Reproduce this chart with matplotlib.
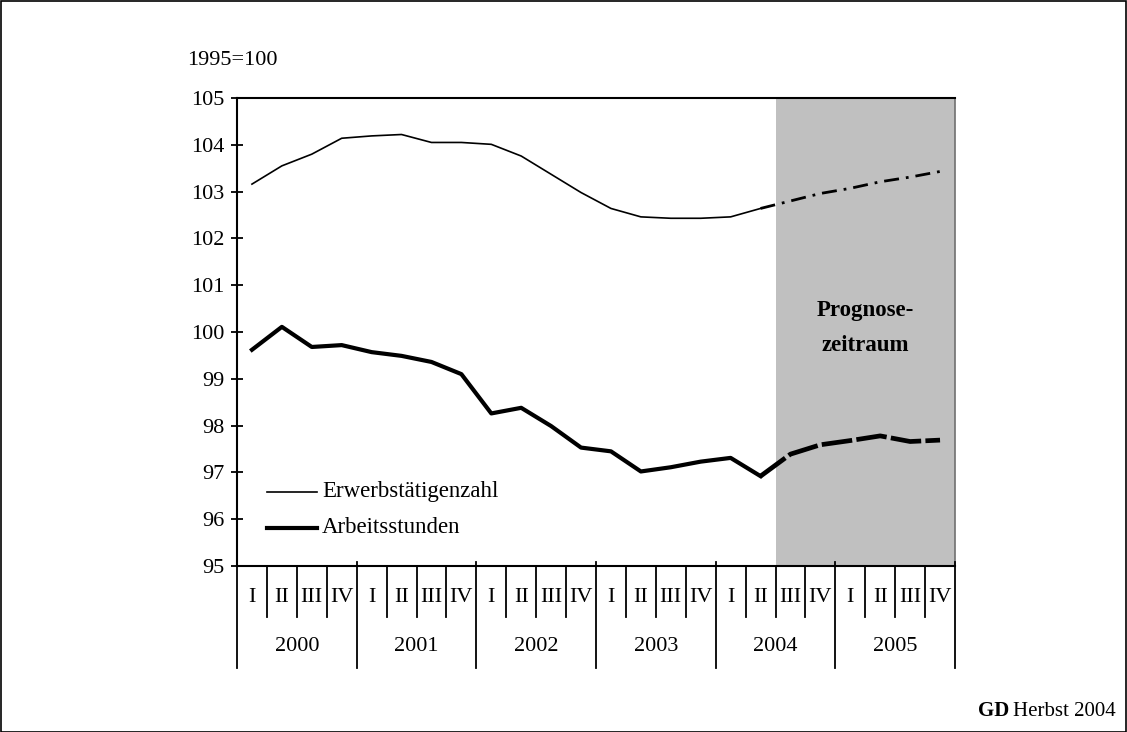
import matplotlib
matplotlib.use("Agg")
import matplotlib.pyplot as plt
from matplotlib.lines import Line2D
from matplotlib.patches import Rectangle
import matplotlib.transforms as mtransforms

plt.rcParams['font.family'] = ['Liberation Serif', 'DejaVu Serif']

# Daten (1995=100), Quartale 2000 I bis 2005 IV
quarters = ["I", "II", "III", "IV"] * 6
years = ["2000", "2001", "2002", "2003", "2004", "2005"]

erwerb = [103.16, 103.55, 103.80, 104.14, 104.19, 104.22, 104.05, 104.05,
          104.01, 103.76, 103.37, 102.98, 102.64, 102.46, 102.43, 102.43,
          102.46, 102.64]
# Prognose ab 2004 II (Anschlusspunkt) bis 2005 IV
erwerb_prog = [102.64, 102.80, 102.96, 103.07, 103.21, 103.31, 103.43]

stunden = [99.62, 100.11, 99.68, 99.72, 99.57, 99.49, 99.36, 99.10,
           98.26, 98.38, 97.99, 97.53, 97.45, 97.02, 97.11, 97.23,
           97.31, 96.92]
stunden_prog = [96.92, 97.39, 97.59, 97.68, 97.78, 97.66, 97.69]

labels = ["Erwerbstätigenzahl", "Arbeitsstunden"]
prog_start = 18  # 2004 III

fig = plt.figure(figsize=(11.27, 7.32), dpi=100)
ax = fig.add_axes([237/1127, 1-566/732, 718/1127, 468/732])

# Prognosezeitraum
ax.axvspan(prog_start, 24, color="#c0c0c0", lw=0, zorder=0)
ax.plot([24, 24], [95, 105], color="#707070", lw=1.2, zorder=1, clip_on=False)

x_hist = [i + 0.5 for i in range(len(erwerb))]
x_prog = [i + 0.5 for i in range(len(erwerb) - 1, len(erwerb) - 1 + len(erwerb_prog))]

ax.plot(x_hist, erwerb, color="black", lw=1.2)
ax.plot(x_prog, erwerb_prog, color="black", lw=2, dashes=(5.4, 2.5, 1, 2.5))
ax.plot(x_hist, stunden, color="black", lw=3)
ax.plot(x_prog, stunden_prog, color="black", lw=3.4, dashes=(6.5, 0.9))

ax.set_xlim(0, 24)
ax.set_ylim(95, 105)
ax.set_yticks(range(95, 106))
ax.tick_params(axis="y", direction="inout", length=8, width=1.3, labelsize=16, pad=5)
ax.set_xticks([])
ax.spines["right"].set_visible(False)
for s in ["left", "bottom", "top"]:
    ax.spines[s].set_linewidth(1.5)

# Quartals- und Jahresachse
trans = mtransforms.blended_transform_factory(ax.transData, ax.transAxes)
for i in range(25):
    if i % 4 == 0:
        ax.add_line(Line2D([i, i], [0.009, -0.218], transform=trans, color="black",
                           lw=1.3, clip_on=False))
    else:
        ax.add_line(Line2D([i, i], [0, -0.108], transform=trans, color="black",
                           lw=1.3, clip_on=False))
for i, q in enumerate(quarters):
    ax.text(i + 0.5, -0.067, q, transform=trans, ha="center", va="center", fontsize=16)
for j, y in enumerate(years):
    ax.text(j * 4 + 2, -0.172, y, transform=trans, ha="center", va="center", fontsize=16)

# Legende
ax.plot([1.003, 2.674], [96.581, 96.581], color="black", lw=1.2)
ax.plot([1.003, 2.674], [95.812, 95.812], color="black", lw=3)
ax.text(2.841, 96.474, labels[0], ha="left", va="baseline", fontsize=16.5)
ax.text(2.841, 95.705, labels[1], ha="left", va="baseline", fontsize=16.5)

ax.text(21.0, 100.34, "Prognose-", ha="center", va="baseline", fontsize=16.5, fontweight="bold")
ax.text(21.0, 99.59, "zeitraum", ha="center", va="baseline", fontsize=16.5, fontweight="bold")

fig.text(278/1127, 1-65/732, "1995=100", ha="right", va="baseline", fontsize=16)
herbst = fig.text(1116/1127, 1-716/732, "Herbst 2004", ha="right", va="baseline", fontsize=15)
fig.canvas.draw()
bb = herbst.get_window_extent()
fig.text((bb.x0 - 4)/1127, 1-716/732, "GD", ha="right", va="baseline", fontsize=15,
         fontweight="bold")

fig.patches.append(Rectangle((0.0005, 0.0005), 0.999, 0.998, transform=fig.transFigure,
                             fill=False, lw=1.2, edgecolor="black"))

fig.savefig("out.png", dpi=100)
